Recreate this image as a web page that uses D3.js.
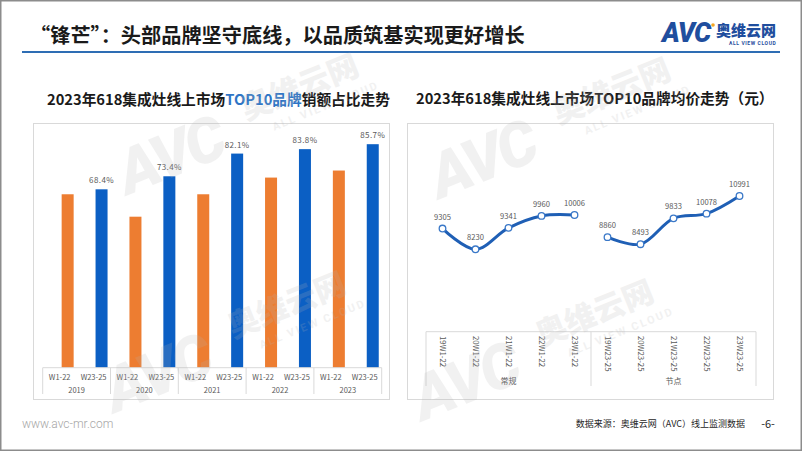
<!DOCTYPE html>
<html>
<head>
<meta charset="utf-8">
<script src="https://cdn.jsdelivr.net/npm/d3@7"></script>
<style>
  body { margin: 0; background: #fff; }
  svg { display: block; font-family: "Noto Sans CJK SC", "Noto Sans", sans-serif; }
</style>
</head>
<body>
<svg id="chart" width="802" height="451"></svg>
<script>
// data
const years = ['2019', '2020', '2021', '2022', '2023'];
const periods = ['W1-22', 'W23-25'];
const shareRegular = [66.5, 57.9, 66.5, 72.9, 75.6];   // W1-22, no labels shown
const shareNode = [68.4, 73.4, 82.1, 83.8, 85.7];      // W23-25

const groupNames = ['常规', '节点'];
const priceRegularLabels = ['19W1-22', '20W1-22', '21W1-22', '22W1-22', '23W1-22'];
const priceRegular = [9305, 8230, 9341, 9960, 10006];
const priceNodeLabels = ['19W23-25', '20W23-25', '21W23-25', '22W23-25', '23W23-25'];
const priceNode = [8860, 8493, 9833, 10078, 10991];

const ORANGE = '#ED7D31';
const BLUE = '#0B5FC4';
const LINE_BLUE = '#1F5FB5';
const GRID = '#d9d9d9';
const LABEL = '#595959';

const svg = d3.select('#chart');

// slide frame + header
svg.append('rect').attr('x', 0.75).attr('y', 0.75).attr('width', 800.5).attr('height', 449.5)
  .attr('fill', '#fff').attr('stroke', '#8c8c8c').attr('stroke-width', 1.5);

svg.append('text').attr('x', 30).attr('y', 43)
  .attr('font-size', 20.2).attr('font-weight', 700).attr('fill', '#1a1a1a')
  .text('“锋芒”：头部品牌坚守底线，以品质筑基实现更好增长');

svg.append('line').attr('x1', 22).attr('x2', 780).attr('y1', 52).attr('y2', 52)
  .attr('stroke', '#2E6DB4').attr('stroke-width', 2);

// logo
svg.append('text').attr('x', 662).attr('y', 42)
  .attr('font-family', 'Roboto, sans-serif').attr('font-size', 27).attr('font-weight', 900)
  .attr('font-style', 'italic').attr('fill', '#1F4E9E').attr('letter-spacing', -1).text('AVC');
svg.append('circle').attr('cx', 713).attr('cy', 25).attr('r', 1.8).attr('fill', '#F5A623');
svg.append('text').attr('x', 716).attr('y', 36)
  .attr('font-size', 15).attr('font-weight', 900).attr('fill', '#1F4E9E').text('奥维云网');
svg.append('text').attr('x', 729).attr('y', 45)
  .attr('font-family', 'Roboto, sans-serif').attr('font-size', 5).attr('font-weight', 700)
  .attr('fill', '#1F4E9E').attr('letter-spacing', 0.6).text('ALL VIEW CLOUD');

// footer
svg.append('text').attr('x', 22).attr('y', 428)
  .attr('font-family', 'Roboto, sans-serif').attr('font-size', 12).attr('font-weight', 300)
  .attr('fill', '#a6a6a6').text('www.avc-mr.com');
svg.append('text').attr('x', 745).attr('y', 427).attr('text-anchor', 'end')
  .attr('font-size', 9).attr('fill', '#262626').text('数据来源：奥维云网（AVC）线上监测数据');
svg.append('text').attr('x', 768).attr('y', 428).attr('text-anchor', 'middle')
  .attr('font-size', 11).attr('fill', '#262626').text('-6-');

// ---------- left: share bar chart ----------
svg.append('rect').attr('x', 33.5).attr('y', 123.5).attr('width', 356).attr('height', 276)
  .attr('fill', '#fff').attr('stroke', GRID);

const leftTitle = svg.append('text').attr('x', 47).attr('y', 105)
  .attr('font-size', 14.7).attr('font-weight', 700).attr('fill', '#1a1a1a');
leftTitle.append('tspan').text('2023年618集成灶线上市场');
leftTitle.append('tspan').attr('fill', '#2E75C6').text('TOP10品牌');
leftTitle.append('tspan').text('销额占比走势');

const cats = [];
years.forEach(y => periods.forEach(p => cats.push(y + '|' + p)));
const barData = [];
years.forEach((y, i) => {
  barData.push({ key: y + '|' + periods[0], v: shareRegular[i], color: ORANGE, label: false });
  barData.push({ key: y + '|' + periods[1], v: shareNode[i], color: BLUE, label: true });
});

const xBar = d3.scaleBand().domain(cats).range([42.7, 381.7]).padding(0);
const yBar = d3.scaleLinear().domain([0, 100]).range([367.7, 106.9]);
const barW = 12;
const barShift = 8; // bars sit right of the category centre in the original

svg.append('g').selectAll('rect').data(barData).join('rect')
  .attr('x', d => xBar(d.key) + xBar.bandwidth() / 2 + barShift - barW / 2)
  .attr('y', d => yBar(d.v))
  .attr('width', barW)
  .attr('height', d => yBar(0) - yBar(d.v))
  .attr('fill', d => d.color);

svg.append('g').selectAll('text').data(barData.filter(d => d.label)).join('text')
  .attr('x', d => xBar(d.key) + xBar.bandwidth() / 2 + barShift)
  .attr('y', d => yBar(d.v) - 6)
  .attr('text-anchor', 'middle').attr('font-size', 8).attr('fill', LABEL)
  .attr('letter-spacing', 0.4)
  .text(d => d.v.toFixed(1) + '%');

// category axis (two levels)
const axL = svg.append('g').attr('stroke', GRID).attr('stroke-width', 1);
axL.append('line').attr('x1', 42.7).attr('x2', 381.7).attr('y1', 367.7).attr('y2', 367.7);
const sepL = years.map(y => xBar(y + '|' + periods[0])).concat([381.7]);
axL.selectAll('line.sep').data(sepL).join('line').attr('class', 'sep')
  .attr('x1', d => d).attr('x2', d => d).attr('y1', 367.7).attr('y2', 394);

svg.append('g').selectAll('text').data(cats).join('text')
  .attr('x', d => xBar(d) + xBar.bandwidth() / 2)
  .attr('y', 379.5)
  .attr('text-anchor', 'middle').attr('font-size', 7.5).attr('fill', LABEL)
  .text(d => d.split('|')[1]);
svg.append('g').selectAll('text').data(years).join('text')
  .attr('x', d => xBar(d + '|' + periods[0]) + xBar.bandwidth())
  .attr('y', 393)
  .attr('text-anchor', 'middle').attr('font-size', 7.5).attr('fill', LABEL)
  .text(d => d);

// ---------- right: price line chart ----------
svg.append('rect').attr('x', 407.5).attr('y', 123.5).attr('width', 366).attr('height', 276)
  .attr('fill', '#fff').attr('stroke', GRID);

svg.append('text').attr('x', 416).attr('y', 104)
  .attr('font-size', 14.7).attr('font-weight', 700).attr('fill', '#1a1a1a')
  .text('2023年618集成灶线上市场TOP10品牌均价走势（元）');

const priceCats = priceRegularLabels.concat(priceNodeLabels);
const xLine = d3.scaleBand().domain(priceCats).range([426, 756]).padding(0);
const yLine = d3.scaleLinear().domain([8230, 10991]).range([249.3, 196]);
const cx = d => xLine(d) + xLine.bandwidth() / 2;

const series = [
  priceRegularLabels.map((c, i) => ({ c, v: priceRegular[i] })),
  priceNodeLabels.map((c, i) => ({ c, v: priceNode[i] }))
];

const line = d3.line().x(d => cx(d.c)).y(d => yLine(d.v)).curve(d3.curveCatmullRom.alpha(0.5));

svg.append('g').selectAll('path').data(series).join('path')
  .attr('d', line).attr('fill', 'none')
  .attr('stroke', LINE_BLUE).attr('stroke-width', 3).attr('stroke-linecap', 'round');

const pts = series.flat();
svg.append('g').selectAll('circle').data(pts).join('circle')
  .attr('cx', d => cx(d.c)).attr('cy', d => yLine(d.v)).attr('r', 3.3)
  .attr('fill', '#fff').attr('stroke', '#3A78C8').attr('stroke-width', 1.3);

svg.append('g').selectAll('text').data(pts).join('text')
  .attr('x', d => cx(d.c)).attr('y', d => yLine(d.v) - 9)
  .attr('text-anchor', 'middle').attr('font-size', 7.6).attr('fill', LABEL)
  .text(d => d.v);

const axR = svg.append('g').attr('stroke', GRID).attr('stroke-width', 1);
axR.append('line').attr('x1', 426).attr('x2', 756).attr('y1', 331.7).attr('y2', 331.7);
axR.selectAll('line.sep').data([426, xLine(priceNodeLabels[0]), 756]).join('line').attr('class', 'sep')
  .attr('x1', d => d).attr('x2', d => d).attr('y1', 331.7).attr('y2', 386);

svg.append('g').selectAll('text').data(priceCats).join('text')
  .attr('transform', d => `translate(${cx(d) - 3},336) rotate(90)`)
  .attr('font-size', 7.8).attr('fill', LABEL)
  .text(d => d);

svg.append('g').selectAll('text').data(groupNames).join('text')
  .attr('x', (d, i) => i === 0 ? (426 + xLine(priceNodeLabels[0])) / 2 : (xLine(priceNodeLabels[0]) + 756) / 2)
  .attr('y', 384)
  .attr('text-anchor', 'middle').attr('font-size', 8).attr('fill', LABEL)
  .text(d => d);

// ---------- watermarks ----------
const marks = [[300, 88], [612, 92], [287, 306], [595, 314]];
const wm = svg.append('g').attr('pointer-events', 'none');
marks.forEach(m => {
  const g = wm.append('g').attr('transform', `translate(${m[0]},${m[1]}) rotate(-22)`)
    .attr('fill', '#b4b4b4').attr('opacity', 0.18);
  g.append('text').attr('x', -200).attr('y', 35)
    .attr('font-family', 'Roboto, sans-serif').attr('font-size', 62).attr('font-weight', 900)
    .attr('font-style', 'italic').attr('letter-spacing', -3).text('AVC');
  g.append('text').attr('x', -62).attr('y', 10).attr('font-size', 31).attr('font-weight', 900).text('奥维云网');
  g.append('text').attr('x', -40).attr('y', 30)
    .attr('font-family', 'Roboto, sans-serif').attr('font-size', 11).attr('font-weight', 700)
    .attr('letter-spacing', 2).text('ALL VIEW CLOUD');
});
</script>
</body>
</html>
